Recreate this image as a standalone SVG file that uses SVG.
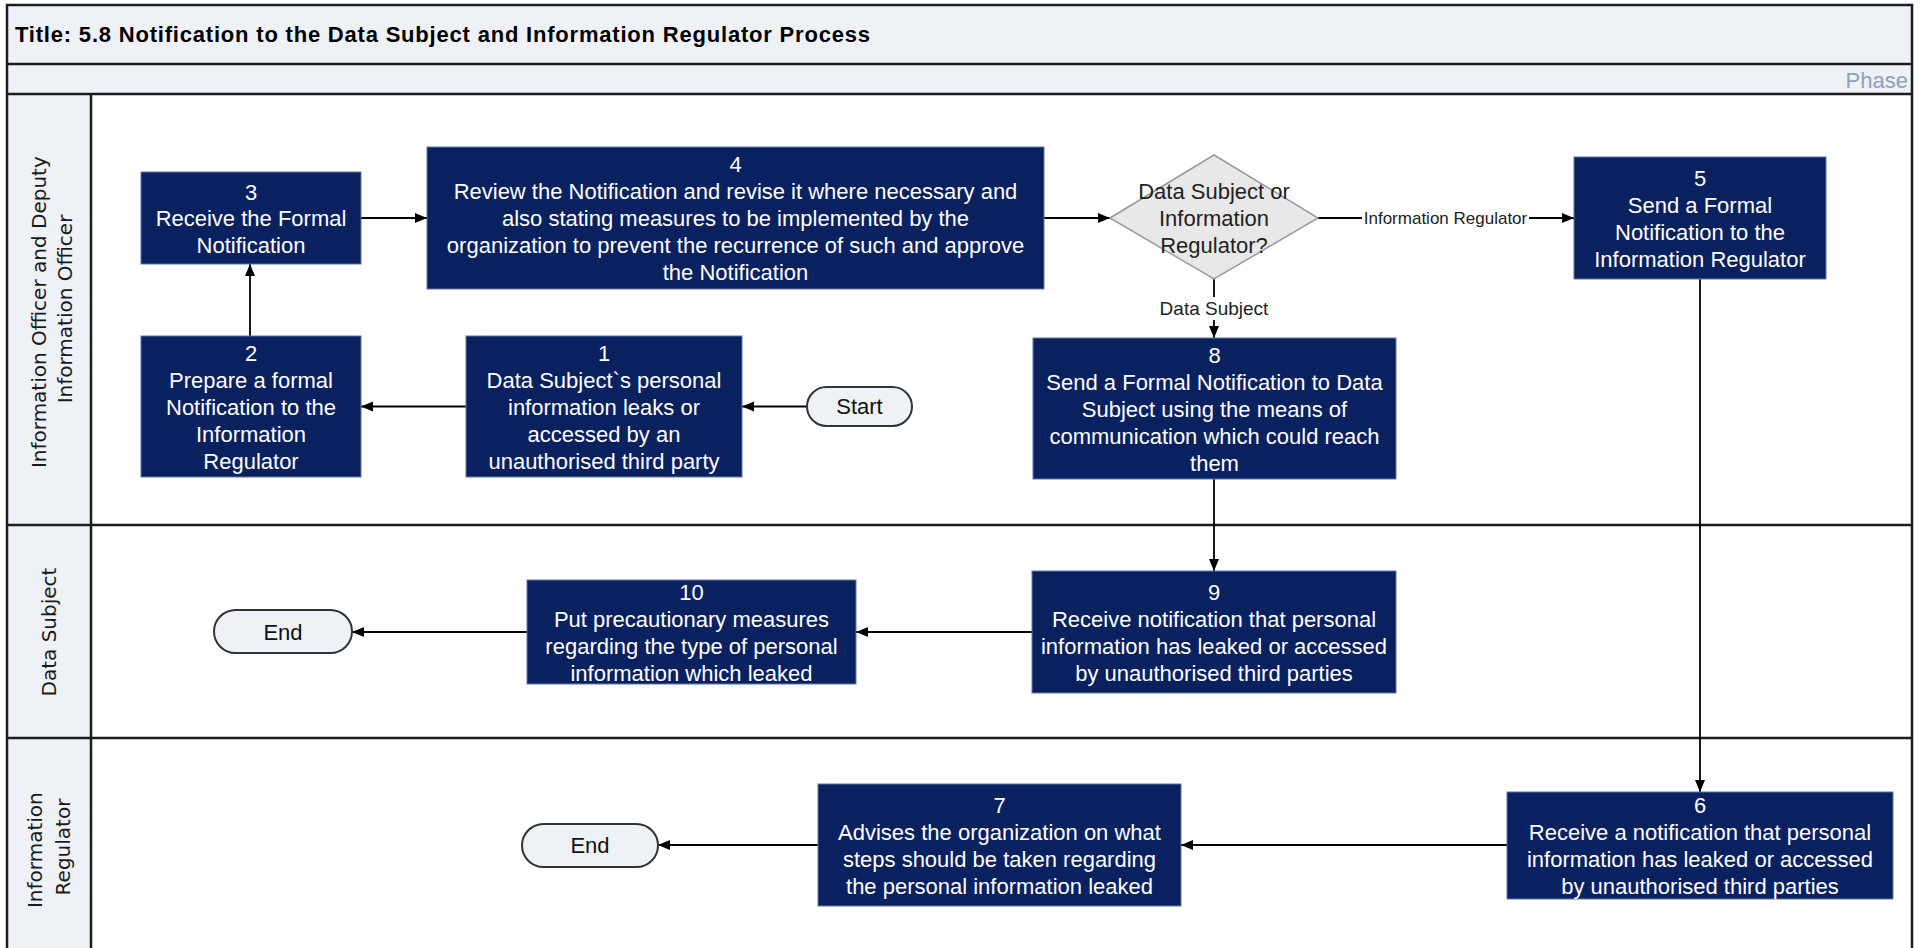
<svg xmlns="http://www.w3.org/2000/svg" width="1921" height="948" viewBox="0 0 1921 948">
  <defs>
    <marker id="arrow" markerUnits="userSpaceOnUse" markerWidth="13" markerHeight="11" refX="12" refY="5" orient="auto">
      <path d="M0,0 L12,5 L0,10 Z" fill="#000"/>
    </marker>
  </defs>
  <style>
    .band { fill: #eef1f6; }
    .rule { stroke: #1c1c1c; stroke-width: 2.5; fill: none; }
    .title { font-family: "Liberation Sans", Arial, sans-serif; font-weight: bold; font-size: 22px; fill: #000; }
    .phase { font-family: "Liberation Sans", Arial, sans-serif; font-size: 22px; fill: #8fa2b8; text-anchor: end; }
    .lane { font-family: "DejaVu Sans", Verdana, sans-serif; font-size: 20px; fill: #1a1a1a; text-anchor: middle; dominant-baseline: central; }
    .step rect { fill: #0a215f; stroke: #5f77a8; stroke-width: 1; }
    .step text { font-family: "Liberation Sans", Arial, sans-serif; font-size: 22px; fill: #ffffff; text-anchor: middle; dominant-baseline: central; }
    .decision polygon { fill: #e8e8e8; stroke: #9a9a9a; stroke-width: 1.5; }
    .decision text { font-family: "Liberation Sans", Arial, sans-serif; font-size: 22px; fill: #222; text-anchor: middle; dominant-baseline: central; }
    .term rect { fill: #eef1f6; stroke: #333; stroke-width: 2; }
    .term text { font-family: "Liberation Sans", Arial, sans-serif; font-size: 22px; fill: #111; text-anchor: middle; dominant-baseline: central; }
    .conn { stroke: #000; stroke-width: 1.8; fill: none; marker-end: url(#arrow); }
    .clabel { font-family: "Liberation Sans", Arial, sans-serif; fill: #222; text-anchor: middle; dominant-baseline: central; }
  </style>

  <!-- page background and swimlane frame -->
  <rect x="0" y="0" width="1921" height="948" fill="#ffffff"/>
  <g id="frame">
    <rect class="band" x="7" y="5" width="1905" height="59"/>
    <rect class="band" x="7" y="64" width="1905" height="30"/>
    <rect class="band" x="7" y="94" width="84" height="870"/>
    <path class="rule" d="M7,960 V5 H1912 V960"/>
    <path class="rule" d="M7,64 H1912 M7,94 H1912 M7,525 H1912 M7,738 H1912 M91,94 V960"/>
    <text class="title" x="15" y="42" textLength="855" lengthAdjust="spacing">Title: 5.8 Notification to the Data Subject and Information Regulator Process</text>
    <text class="phase" x="1908" y="88">Phase</text>
  </g>

  <!-- lane headers -->
  <g id="lane-officer">
    <text class="lane" transform="translate(52,309) rotate(-90)">
      <tspan x="0" y="-13">Information Officer and Deputy</tspan>
      <tspan x="0" y="13">Information Officer</tspan>
    </text>
  </g>
  <g id="lane-subject">
    <text class="lane" transform="translate(49,632) rotate(-90)"><tspan x="0" y="0">Data Subject</tspan></text>
  </g>
  <g id="lane-regulator">
    <text class="lane" transform="translate(49,847) rotate(-90)">
      <tspan x="0" y="-14">Information</tspan>
      <tspan x="0" y="14">Regulator</tspan>
    </text>
  </g>

  <!-- connectors -->
  <g id="connectors">
    <line class="conn" x1="807" y1="406.5" x2="742" y2="406.5"/>
    <line class="conn" x1="466" y1="406.5" x2="361" y2="406.5"/>
    <line class="conn" x1="250" y1="336" x2="250" y2="264"/>
    <line class="conn" x1="361" y1="218" x2="427" y2="218"/>
    <line class="conn" x1="1044" y1="218" x2="1110" y2="218"/>
    <line class="conn" x1="1318" y1="218" x2="1574" y2="218"/>
    <line class="conn" x1="1214" y1="279" x2="1214" y2="338"/>
    <line class="conn" x1="1214" y1="479" x2="1214" y2="571"/>
    <line class="conn" x1="1700" y1="279" x2="1700" y2="792"/>
    <line class="conn" x1="1032" y1="632" x2="856" y2="632"/>
    <line class="conn" x1="527" y1="632" x2="352" y2="632"/>
    <line class="conn" x1="1507" y1="845" x2="1181" y2="845"/>
    <line class="conn" x1="818" y1="845" x2="658" y2="845"/>
    <rect x="1362" y="209" width="167" height="19" fill="#ffffff"/>
    <text class="clabel" x="1445.5" y="218.5" font-size="17">Information Regulator</text>
    <rect x="1155" y="297" width="118" height="23" fill="#ffffff"/>
    <text class="clabel" x="1214" y="308.5" font-size="19">Data Subject</text>
  </g>

  <!-- terminators -->
  <g id="start" class="term">
    <rect x="807" y="387" width="105" height="39" rx="19.5"/>
    <text x="859.5" y="406.5">Start</text>
  </g>
  <g id="end-subject" class="term">
    <rect x="214" y="610" width="138" height="43" rx="21.5"/>
    <text x="283" y="632">End</text>
  </g>
  <g id="end-regulator" class="term">
    <rect x="522" y="824" width="136" height="43" rx="21.5"/>
    <text x="590" y="845.5">End</text>
  </g>

  <!-- process steps -->
  <g id="step1" class="step">
    <rect x="466" y="336" width="276" height="141"/>
    <text x="604"><tspan x="604" y="352.5">1</tspan><tspan x="604" y="379.5">Data Subject`s personal</tspan><tspan x="604" y="406.5">information leaks or</tspan><tspan x="604" y="433.5">accessed by an</tspan><tspan x="604" y="460.5">unauthorised third party</tspan></text>
  </g>
  <g id="step2" class="step">
    <rect x="141" y="336" width="220" height="141"/>
    <text x="251"><tspan x="251" y="352.5">2</tspan><tspan x="251" y="379.5">Prepare a formal</tspan><tspan x="251" y="406.5">Notification to the</tspan><tspan x="251" y="433.5">Information</tspan><tspan x="251" y="460.5">Regulator</tspan></text>
  </g>
  <g id="step3" class="step">
    <rect x="141" y="172" width="220" height="92"/>
    <text x="251"><tspan x="251" y="191.5">3</tspan><tspan x="251" y="218">Receive the Formal</tspan><tspan x="251" y="244.5">Notification</tspan></text>
  </g>
  <g id="step4" class="step">
    <rect x="427" y="147" width="617" height="142"/>
    <text x="735.5"><tspan x="735.5" y="164">4</tspan><tspan x="735.5" y="191">Review the Notification and revise it where necessary and</tspan><tspan x="735.5" y="218">also stating measures to be implemented by the</tspan><tspan x="735.5" y="245">organization to prevent the recurrence of such and approve</tspan><tspan x="735.5" y="272">the Notification</tspan></text>
  </g>
  <g id="decision" class="decision">
    <polygon points="1110,218 1214,155 1318,218 1214,279"/>
    <text x="1214"><tspan x="1214" y="191">Data Subject or</tspan><tspan x="1214" y="218">Information</tspan><tspan x="1214" y="245">Regulator?</tspan></text>
  </g>
  <g id="step5" class="step">
    <rect x="1574" y="157" width="252" height="122"/>
    <text x="1700"><tspan x="1700" y="177.5">5</tspan><tspan x="1700" y="204.5">Send a Formal</tspan><tspan x="1700" y="231.5">Notification to the</tspan><tspan x="1700" y="258.5">Information Regulator</tspan></text>
  </g>
  <g id="step6" class="step">
    <rect x="1507" y="792" width="386" height="107"/>
    <text x="1700"><tspan x="1700" y="805">6</tspan><tspan x="1700" y="832">Receive a notification that personal</tspan><tspan x="1700" y="859">information has leaked or accessed</tspan><tspan x="1700" y="886">by unauthorised third parties</tspan></text>
  </g>
  <g id="step7" class="step">
    <rect x="818" y="784" width="363" height="122"/>
    <text x="999.5"><tspan x="999.5" y="804.5">7</tspan><tspan x="999.5" y="831.5">Advises the organization on what</tspan><tspan x="999.5" y="858.5">steps should be taken regarding</tspan><tspan x="999.5" y="885.5">the personal information leaked</tspan></text>
  </g>
  <g id="step8" class="step">
    <rect x="1033" y="338" width="363" height="141"/>
    <text x="1214.5"><tspan x="1214.5" y="354.5">8</tspan><tspan x="1214.5" y="381.5">Send a Formal Notification to Data</tspan><tspan x="1214.5" y="408.5">Subject using the means of</tspan><tspan x="1214.5" y="435.5">communication which could reach</tspan><tspan x="1214.5" y="462.5">them</tspan></text>
  </g>
  <g id="step9" class="step">
    <rect x="1032" y="571" width="364" height="122"/>
    <text x="1214"><tspan x="1214" y="591.5">9</tspan><tspan x="1214" y="618.5">Receive notification that personal</tspan><tspan x="1214" y="645.5">information has leaked or accessed</tspan><tspan x="1214" y="672.5">by unauthorised third parties</tspan></text>
  </g>
  <g id="step10" class="step">
    <rect x="527" y="580" width="329" height="104"/>
    <text x="691.5"><tspan x="691.5" y="591.5">10</tspan><tspan x="691.5" y="618.5">Put precautionary measures</tspan><tspan x="691.5" y="645.5">regarding the type of personal</tspan><tspan x="691.5" y="672.5">information which leaked</tspan></text>
  </g>
</svg>
